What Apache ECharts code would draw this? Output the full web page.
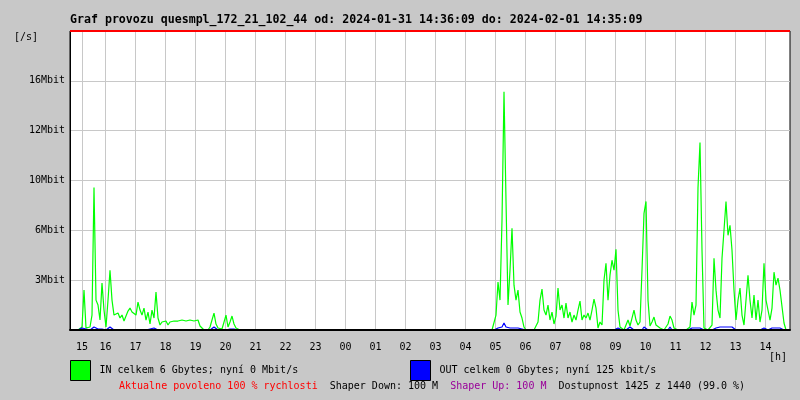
<!DOCTYPE html>
<html><head><meta charset="utf-8">
<script src="https://cdn.jsdelivr.net/npm/echarts@6/dist/echarts.min.js"></script>
<style>html,body{margin:0;padding:0;background:#c8c8c8}#c{width:800px;height:400px}</style>
</head><body><div id="c"></div>
<script>
const titleText = 'Graf provozu quesmpl_172_21_102_44 od: 2024-01-31 14:36:09 do: 2024-02-01 14:35:09';
const hourLabels = ['15','16','17','18','19','20','21','22','23','00','01','02','03','04','05','06','07','08','09','10','11','12','13','14'];
const yTickLabels = ['', '3Mbit', '6Mbit', '10Mbit', '12Mbit', '16Mbit', ''];
const inLegendText = 'IN celkem 6 Gbytes; nyní 0 Mbit/s';
const outLegendText = 'OUT celkem 0 Gbytes; nyní 125 kbit/s';
const statusText = 'Aktualne povoleno 100 % rychlosti';
const shaperDownText = 'Shaper Down: 100 M';
const shaperUpText = 'Shaper Up: 100 M';
const availText = 'Dostupnost 1425 z 1440 (99.0 %)';
const sampleMinutes = 4;   // one sample every 4 minutes since 14:36
// IN traffic, kbit/s
const inKbit = [
0,0,0,0,0,0,198,2640,132,132,
198,990,9438,1980,1650,660,3102,1320,198,1980,
3960,1980,990,858,1122,792,990,594,924,1254,
1452,1188,1320,990,1848,1320,990,1452,660,1188,
396,1320,792,2508,792,330,528,396,594,330,
528,396,594,462,594,528,660,528,594,462,
660,528,594,462,660,264,132,0,0,0,
198,660,1122,396,132,264,66,198,990,198,
528,924,396,132,0,0,0,0,0,0,
0,0,0,0,0,0,0,0,0,0,
0,0,0,0,0,0,0,0,0,0,
0,0,0,0,0,0,0,0,0,0,
0,0,0,0,0,0,0,0,0,0,
0,0,0,0,0,0,0,0,0,0,
0,0,0,0,0,0,0,0,0,0,
0,0,0,0,0,0,0,0,0,0,
0,0,0,0,0,0,0,0,0,0,
0,0,0,0,0,0,0,0,0,0,
0,0,0,0,0,0,0,0,0,0,
0,0,0,0,0,0,0,0,0,0,
0,0,0,0,0,0,0,0,0,0,
0,0,0,990,3168,1980,7260,15774,8580,1650,
3960,6732,2970,1980,2640,1188,792,198,0,0,
0,0,0,0,528,1980,2706,1320,990,1650,
660,1188,396,924,2772,1320,1650,792,1782,792,
1188,528,990,660,1320,1914,660,990,792,1122,
660,1320,2046,1452,132,528,330,3300,4422,1980,
3630,4620,3960,5346,1320,198,132,0,330,660,
264,792,1320,660,330,528,3960,7722,8514,1980,
264,528,858,330,396,132,0,0,0,396,
924,660,132,0,0,0,0,0,0,0,
198,1848,990,1650,9438,12408,5280,132,0,0,
0,330,4752,2640,1320,792,4752,6600,8514,6270,
6930,5280,2640,660,1980,2772,990,330,264,3630,
1980,792,2310,660,1980,528,1320,4422,1980,1320,
660,1452,3828,2970,3432,2640,2772,462,0,0
];
// OUT traffic, kbit/s
const outKbit = [
0,0,0,0,0,0,132,264,66,0,
0,132,198,66,66,66,66,0,0,132,
198,66,0,0,0,0,0,0,0,0,
0,0,0,0,0,0,0,0,0,0,
66,132,132,66,0,0,0,0,0,0,
0,0,0,0,0,0,0,0,0,0,
0,0,0,0,0,0,0,0,0,0,
0,132,198,132,0,0,0,0,0,0,
66,132,66,0,0,0,0,0,0,0,
0,0,0,0,0,0,0,0,0,0,
0,0,0,0,0,0,0,0,0,0,
0,0,0,0,0,0,0,0,0,0,
0,0,0,0,0,0,0,0,0,0,
0,0,0,0,0,0,0,0,0,0,
0,0,0,0,0,0,0,0,0,0,
0,0,0,0,0,0,0,0,0,0,
0,0,0,0,0,0,0,0,0,0,
0,0,0,0,0,0,0,0,0,0,
0,0,0,0,0,0,0,0,0,0,
0,0,0,0,0,0,0,0,0,0,
0,0,0,0,0,0,0,0,0,0,
0,0,0,132,132,198,198,462,198,132,
132,132,132,132,132,132,66,0,0,0,
0,0,0,0,0,0,0,0,0,0,
0,0,0,0,0,0,0,0,0,0,
0,0,0,0,0,0,0,0,0,0,
0,0,0,0,0,0,0,132,0,0,
0,0,0,0,132,0,0,0,0,132,
198,132,0,0,0,0,0,198,198,0,
0,0,0,0,0,0,0,0,0,0,
198,0,0,0,0,0,0,0,0,0,
0,132,132,132,198,132,0,0,0,0,
0,0,132,132,0,198,198,198,198,198,
198,198,198,0,0,0,0,0,0,0,
0,0,0,0,0,0,0,132,0,0,
0,132,132,132,132,132,132,0,0,0
];

const FONT = 'DejaVu Sans Mono';
const yStep = 3300, yMax = 19800, xMax = 1440;
// hour grid positions in minutes since start (first gap is shorter in the original)
const tickMinutes = hourLabels.map((h, k) => k === 0 ? 24 : 71 + (k - 1) * 60);

const chart = echarts.init(document.getElementById('c'), null, {renderer: 'canvas'});
chart.setOption({
  animation: false,
  backgroundColor: '#c8c8c8',
  textStyle: {fontFamily: FONT},
  title: [
    {text: titleText, left: 70, top: 14, padding: 0,
     textStyle: {fontFamily: FONT, fontWeight: 'bold', fontSize: 11.6, color: '#000'}},
    {text: '[/s]', left: 14, top: 32, padding: 0,
     textStyle: {fontFamily: FONT, fontWeight: 'normal', fontSize: 10, color: '#000'}},
    {text: '[h]', left: 769, top: 352, padding: 0,
     textStyle: {fontFamily: FONT, fontWeight: 'normal', fontSize: 10, color: '#000'}},
    {text: '{r|' + statusText + '}  {k|' + shaperDownText + '}  {p|' + shaperUpText + '}  {k|' + availText + '}',
     left: 119, top: 381, padding: 0,
     textStyle: {fontFamily: FONT, fontWeight: 'normal', fontSize: 10, color: '#000',
       rich: {
         r: {fontFamily: FONT, fontSize: 10, color: '#ff0000'},
         k: {fontFamily: FONT, fontSize: 10, color: '#000000'},
         p: {fontFamily: FONT, fontSize: 10, color: '#990099'}
       }}}
  ],
  legend: [
    {data: ['IN'], left: 70, top: 360, padding: 0, itemWidth: 20, itemHeight: 20, icon: 'rect',
     selectedMode: false, itemStyle: {borderColor: '#000', borderWidth: 1},
     formatter: () => inLegendText,
     textStyle: {fontFamily: FONT, fontSize: 10, color: '#000', padding: [0, 0, 7, 4]}},
    {data: ['OUT'], left: 410, top: 360, padding: 0, itemWidth: 20, itemHeight: 20, icon: 'rect',
     selectedMode: false, itemStyle: {borderColor: '#000', borderWidth: 1},
     formatter: () => outLegendText,
     textStyle: {fontFamily: FONT, fontSize: 10, color: '#000', padding: [0, 0, 7, 4]}}
  ],
  grid: {left: 70, right: 10, top: 31, bottom: 70, show: true, backgroundColor: '#ffffff',
         borderColor: '#000', borderWidth: 1},
  xAxis: [
    {type: 'value', min: 0, max: xMax, position: 'bottom',
     axisLine: {show: false},
     axisTick: {show: false, customValues: tickMinutes},
     splitLine: {show: true, lineStyle: {color: '#c8c8c8', width: 1}},
     axisLabel: {customValues: tickMinutes, margin: 12, fontFamily: FONT, fontSize: 10, color: '#000',
       formatter: (v) => {
         let best = 0;
         tickMinutes.forEach((t, k) => { if (Math.abs(t - v) < Math.abs(tickMinutes[best] - v)) best = k; });
         return hourLabels[best];
       }}},
    {type: 'value', min: 0, max: xMax, position: 'bottom', z: 10,
     axisLine: {show: true, lineStyle: {color: '#000', width: 2}},
     axisTick: {show: false}, splitLine: {show: false}, axisLabel: {show: false}}
  ],
  yAxis: {type: 'value', min: 0, max: yMax, interval: yStep,
    axisLine: {show: true, lineStyle: {color: '#000', width: 1}},
    axisTick: {show: false},
    splitLine: {show: true, lineStyle: {color: '#c8c8c8', width: 1}},
    axisLabel: {margin: 5, fontFamily: FONT, fontSize: 10, color: '#000',
      formatter: (v) => yTickLabels[Math.round(v / yStep)] || ''}},
  series: [
    {name: 'IN', type: 'line', xAxisIndex: 0, symbol: 'none', z: 3,
     color: '#00ff00', lineStyle: {color: '#00ff00', width: 1.2},
     data: inKbit.map((v, i) => [i * sampleMinutes, v]),
     markLine: {silent: true, symbol: 'none', label: {show: false},
       lineStyle: {color: '#ff0000', width: 2, type: 'solid'},
       data: [{yAxis: yMax}]}},
    {name: 'OUT', type: 'line', xAxisIndex: 0, symbol: 'none', z: 4,
     color: '#0000ff', lineStyle: {color: '#0000ff', width: 1.2},
     data: outKbit.map((v, i) => [i * sampleMinutes, v])}
  ]
});
</script></body></html>
